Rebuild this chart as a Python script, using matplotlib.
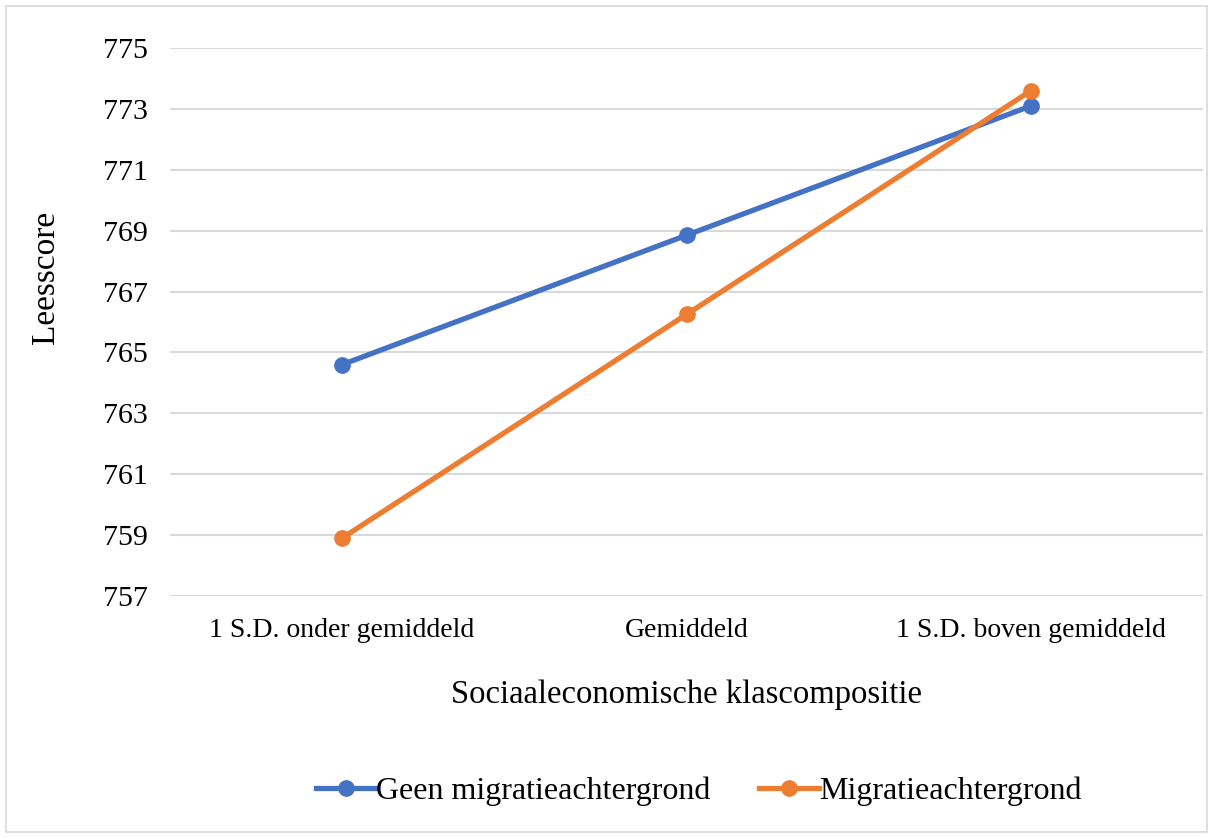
import matplotlib.pyplot as plt
from matplotlib.patches import Rectangle

plt.rcParams['font.family'] = ['Liberation Serif', 'DejaVu Serif']

categories = ["1 S.D. onder gemiddeld", "Gemiddeld", "1 S.D. boven gemiddeld"]
geen_migratie = [764.6, 768.85, 773.1]
migratie = [758.9, 766.25, 773.6]
series_names = ["Geen migratieachtergrond", "Migratieachtergrond"]
y_ticks = [757, 759, 761, 763, 765, 767, 769, 771, 773, 775]

fig = plt.figure(figsize=(12.13, 8.38), dpi=100)
ax = fig.add_axes([0.140, 0.2888, 0.852, 0.6539])

x = range(len(categories))
ax.plot(x, geen_migratie, color="#4472C4", lw=3.8, marker="o", ms=11, label=series_names[0], zorder=3)
ax.plot(x, migratie, color="#ED7D31", lw=3.8, marker="o", ms=11, label=series_names[1], zorder=3)

ax.set_xlim(-0.5, 2.5)
ax.set_ylim(757, 775)
ax.set_yticks(y_ticks)
ax.set_xticks(list(x))
ax.set_xticklabels(categories)
ax.tick_params(axis="x", length=0, labelsize=20, pad=16)
ax.tick_params(axis="y", length=0, labelsize=21.5, pad=16)
ax.grid(axis="y", color="#D9D9D9", lw=1.5)
ax.set_axisbelow(True)
for s in ax.spines.values():
    s.set_visible(False)

ax.set_xlabel("Sociaaleconomische klascompositie", fontsize=23.5, labelpad=26)
ax.set_ylabel("Leesscore", fontsize=24)
ax.yaxis.set_label_coords(-0.105, 0.582)

fig.legend(loc="center", bbox_to_anchor=(0.576, 0.056), ncol=2, frameon=False,
           fontsize=23, handlelength=1.9, handletextpad=0.0, columnspacing=1.5)

fig.patches.append(Rectangle((0.005, 0.007), 0.99, 0.986, transform=fig.transFigure,
                             fill=False, edgecolor="#D9D9D9", lw=1.2))

fig.savefig("out.png", dpi=100)
